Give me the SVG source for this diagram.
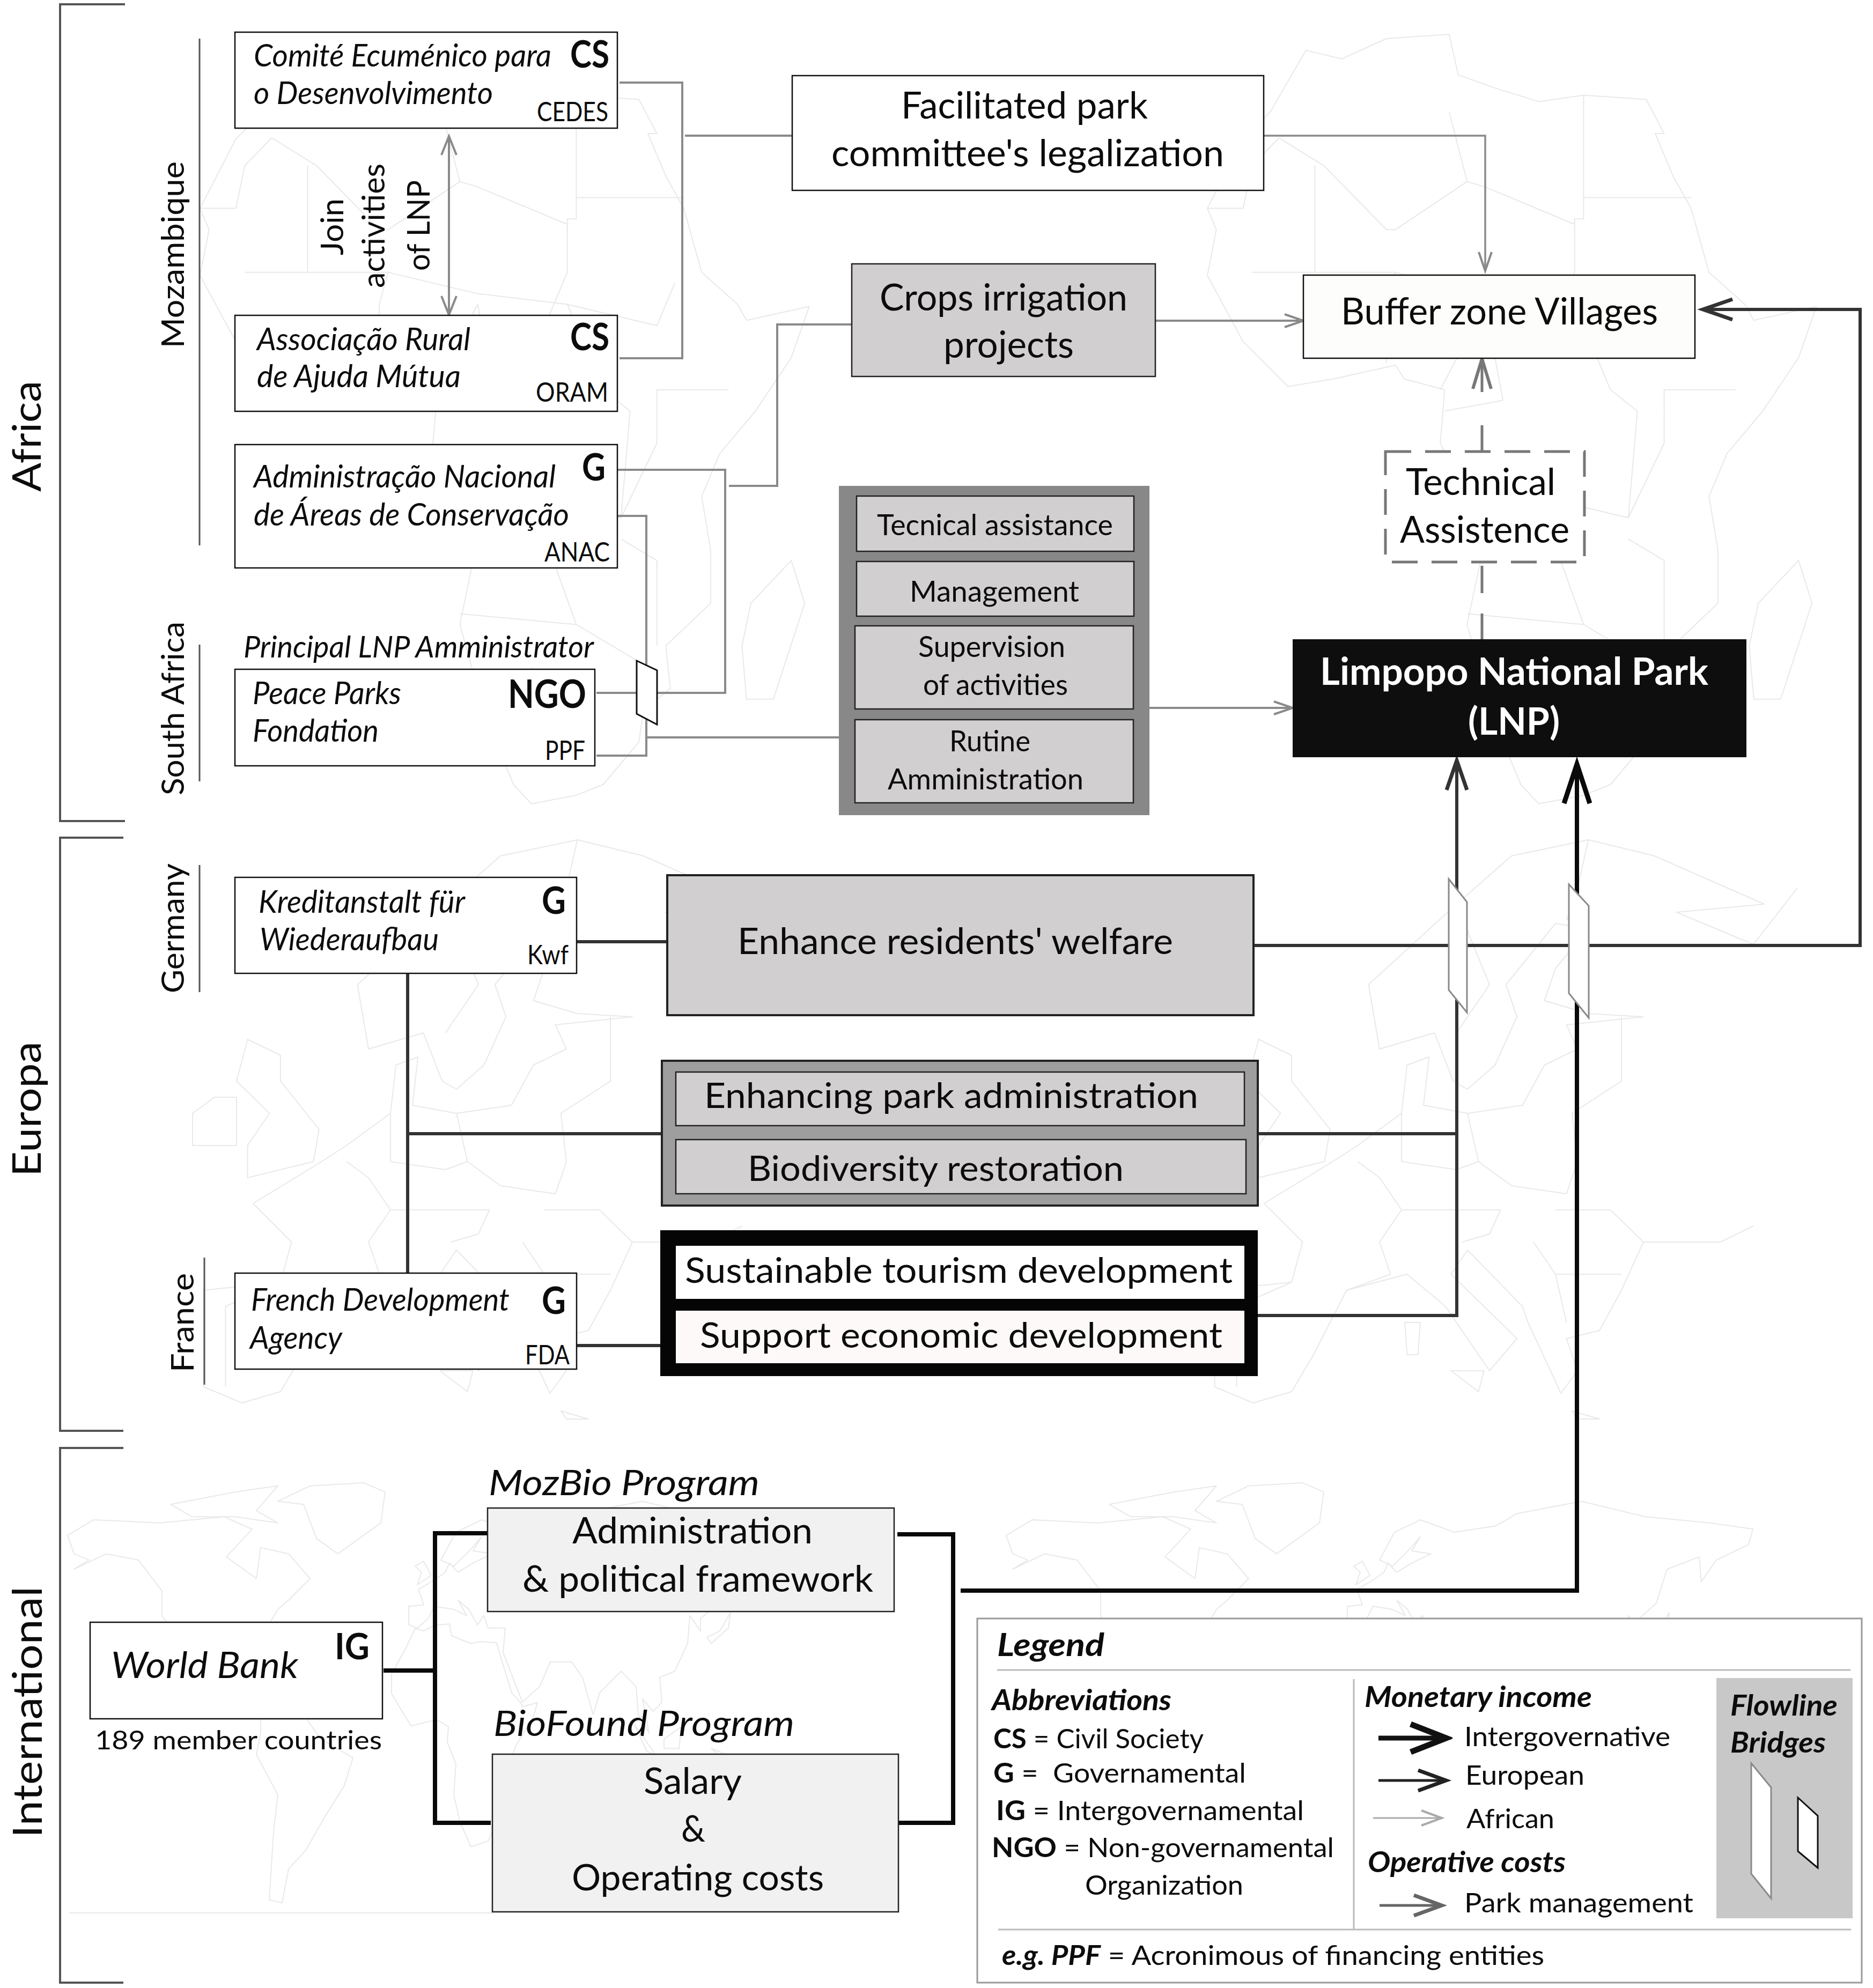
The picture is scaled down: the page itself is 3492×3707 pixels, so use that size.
<svg xmlns="http://www.w3.org/2000/svg" xmlns:xlink="http://www.w3.org/1999/xlink" width="3492" height="3707" viewBox="0 0 3492 3707">
<style>
text{font-family:"Lato","Open Sans","Liberation Sans",sans-serif;fill:#0c0c0c}
.i{font-style:italic}.b{font-weight:700}.bi{font-weight:700;font-style:italic}
.m{fill:none;stroke:#e9e9e9;stroke-width:2;vector-effect:non-scaling-stroke;stroke-linejoin:round}
.box{fill:#fff;stroke:#111;stroke-width:2.5}
.gb{fill:#d1cfd0;stroke:#222;stroke-width:2.5}
.lg{fill:#f1f1f1;stroke:#222;stroke-width:2.5}
.c{fill:none;stroke-linejoin:miter}
.gr{stroke:#8a8a8a;stroke-width:4}
.dk{stroke:#333;stroke-width:6}
.bk{stroke:#0a0a0a;stroke-width:8}
.br{stroke:#555;stroke-width:4;fill:none}
.sep{stroke:#bbb;stroke-width:3;fill:none}
.brg{fill:#fff;stroke:#8a8a8a;stroke-width:3}
.brb{fill:#fff;stroke:#111;stroke-width:3}
</style>
<defs>
<marker id="aG" markerUnits="userSpaceOnUse" markerWidth="80" markerHeight="60" refX="70" refY="30" orient="auto"><path d="M35 18L70 30L35 42" fill="none" stroke="#8a8a8a" stroke-width="4"/></marker>
<marker id="aGs" markerUnits="userSpaceOnUse" markerWidth="80" markerHeight="60" refX="70" refY="30" orient="auto-start-reverse"><path d="M35 16L70 30L35 44" fill="none" stroke="#8a8a8a" stroke-width="4"/></marker>
<marker id="aT" markerUnits="userSpaceOnUse" markerWidth="120" markerHeight="60" refX="100" refY="30" orient="auto"><path d="M44 13L100 30L44 47" fill="none" stroke="#777" stroke-width="6"/></marker>
<marker id="aD" markerUnits="userSpaceOnUse" markerWidth="120" markerHeight="60" refX="100" refY="30" orient="auto"><path d="M45 11L100 30L45 49" fill="none" stroke="#333" stroke-width="7"/></marker>
<marker id="aK" markerUnits="userSpaceOnUse" markerWidth="120" markerHeight="70" refX="100" refY="35" orient="auto"><path d="M27 11L100 35L27 59" fill="none" stroke="#0a0a0a" stroke-width="9"/></marker>
<marker id="l1" markerUnits="userSpaceOnUse" markerWidth="100" markerHeight="80" refX="90" refY="40" orient="auto"><path d="M22 14L88 40L22 66" fill="none" stroke="#111" stroke-width="11"/></marker>
<marker id="l2" markerUnits="userSpaceOnUse" markerWidth="100" markerHeight="80" refX="90" refY="40" orient="auto"><path d="M36 21L88 40L36 59" fill="none" stroke="#222" stroke-width="7"/></marker>
<marker id="l3" markerUnits="userSpaceOnUse" markerWidth="100" markerHeight="80" refX="90" refY="40" orient="auto"><path d="M50 26L88 40L50 54" fill="none" stroke="#aaa" stroke-width="4"/></marker>
<marker id="l4" markerUnits="userSpaceOnUse" markerWidth="100" markerHeight="80" refX="90" refY="40" orient="auto"><path d="M36 21L88 40L36 59" fill="none" stroke="#666" stroke-width="7"/></marker>
<g id="afr">
<path class="m" d="M-6 35.8L-2 35 3 36.9 10 37.3 11 33.5 15 32.3 20 31 25 31.6 32 31.2 34 28 33 28 35 24 37 21 39 15 43 12 44 10.5 51 11.8 49 7 45 2 41 -2 39 -6 40 -11 40 -16 35 -20 35.5 -24 32.5 -26 32 -29 28 -33 25 -34 20 -34.8 18 -33 15 -27 12 -18 13.5 -12 13 -8 9 -1 9.5 4 5 5 4 6.3 -3 5 -8 4.3 -13 8.5 -17 14.7 -16 19 -17 21 -13 27.5 -10 30Z"/>
<path class="m" d="M-9 27.6L-4 25 3 19 4 19 12 23.5 10 30M25 31.6L25 20 24 20 24 15 22 11M12 23.5L14 23 24 19.5M25 22L37 22M-12 15L-5 15 4 15 14 13 24 12 34 10 36 14M9 4L14 12M-17 21L-13 21 -12 25 -9 27.6M-5 25L-5 15M4 15L3 12 3 6.5M15 -5L30 -8 34 -1 34 4 42 4M12 -17L25 -18 33 -22M20 -22L20 -28 17 -28M30 -10L34 -12 34 -20M25 -18L22 -11 12 -6M14 12L16 3 9.5 2M24 12L28 4 31 2 30 -8"/>
<path class="m" d="M49 -12L50.5 -16 47 -25 44 -25 43.5 -20 44.5 -16Z"/>
</g>
<g id="eur">
<path class="m" d="M-9 37L-9 43 -2 43.5 -1 46 -4.5 48.4 1.5 50.9 4 52 8 54 8.5 57 10.5 57.5 10 54.5 14 54 19 54.5 21 57 24 58 23 59.5 30 60 25 60.2 21 61 22 63 25 65.5 22 65.8 17.5 62 18.5 60 16.5 57 14 55.5 12.7 56 11 59 6 58 5 62 13 67 18 70 25 71 31 70 41 67 33 66.5 40 64.5 44 68M40 47L37 46 33 46 30 46 28 43 26 40.5 23 40 24 38 22.5 36.6 19.5 41 19 42 14 45.5 12.5 44 18.5 40 16 38 12 42 8.5 44 3 43 0 39 -2 36.7 -5.5 36 -9 37"/>
<path class="m" d="M-5 50L1 51 1.5 53 -2 56 -2 57.6 -5 58.6 -6 56 -3 54 -5 52ZM-10 52L-6 52 -6 55 -8 55 -10 54ZM12.5 38L15.5 38 15 36.7ZM8.3 41L9.7 41 9.5 39 8.5 39ZM23.5 35.5L26 35 24 35Z"/>
<path class="m" d="M3 43L7 44 6 46 8 48 6 50 4 51M14 54L15 51 18 49.5 23 49 24 51 23.5 54 28 56 28 60M8 48L13 48 17 48 16 46.5 13.5 46M22 48L27 48 30 46M22 44L28 44M20 46L22 44 23 41M-2 43.5L-7 42 -7 37M8 54L8 51 13 50.5 15 51M25 71L24 68 23 66M13 67L16 62 13 59"/>
</g>
<g id="wld">
<path class="m" d="M-165 60L-168 66 -156 71 -125 70 -95 72 -82 68 -94 59 -80 52 -78 62 -65 60 -55 52 -65 45 -70 42 -76 35 -81 30 -80 25 -83 29 -90 29 -97 26 -97 19 -90 21 -87 21 -83 11 -78 9 -85 10 -95 16 -105 20 -112 28 -117 33 -124 40 -124 48 -135 58 -150 60 -165 55 -158 58Z"/>
<path class="m" d="M-55 82L-30 83 -20 80 -22 70 -42 60 -52 65 -58 76 -70 77ZM-120 76L-90 80 -70 82 -80 74 -70 70 -90 72 -110 72Z"/>
<path class="m" d="M-78 9L-72 12 -60 10 -50 0 -35 -6 -39 -15 -48 -25 -57 -36 -65 -42 -68 -53 -74 -52 -72 -30 -70 -18 -80 -5 -78 2Z"/>
<path class="m" d="M-6 35.8L-2 35 3 36.9 10 37.3 11 33.5 15 32.3 20 31 25 31.6 32 31.2 35 24 39 15 43 12 44 10.5 51 11.8 49 7 41 -2 39 -6 40 -16 35 -20 32.5 -26 28 -33 20 -34.8 15 -27 12 -18 13 -8 9 -1 9.5 4 4 6.3 -8 4.3 -17 14.7 -17 21 -10 30ZM49 -12L50.5 -16 47 -25 44 -25 44 -16Z"/>
<path class="m" d="M-9 37L-9 43 -2 43.5 -4.5 48.4 4 52 8 54 10 57 14 54 21 57 30 60 21 61 25 65.5 18 60 12 56 6 58 13 67 25 71 41 67 60 69 70 73 100 77 130 72 160 70 180 68 178 63 163 58 156 51 155 59 140 55 135 44 127 39 127 35 122 40 121 31 115 22 108 20 109 12 105 9 100 13 103 2 98 8 97 17 90 22 80 15 77 8 72 20 67 25 57 25 52 17 44 12 35 28 36 36 28 36 26 40 23 37 19 42 14 45 18 40 12 42 3 43 0 39 -5 36Z"/>
<path class="m" d="M-5 50L1.500 53 -2 57.600 -6 56 -3 54ZM130 33L136 35 141 41 140 36 132 31ZM96 5L106 -5 102 -4ZM110 0L118 4 117 -3 110 -3ZM132 -3L150 -8 140 -8ZM114 -22L122 -18 130 -12 136 -12 140 -17 146 -19 153 -27 150 -37 140 -38 130 -32 115 -34ZM172 -35L178 -38 168 -46Z"/>
</g>
</defs>
<rect width="3492" height="3707" fill="#fff"/>
<g id="basemap">
<use xlink:href="#afr" href="#afr" transform="translate(656.900 806.300) scale(16.700 -19.900)"/>
<use xlink:href="#afr" href="#afr" transform="translate(2534.900 806.300) scale(16.700 -19.900)"/>
<use xlink:href="#eur" href="#eur" transform="translate(564 3696) scale(20.500 -30)"/>
<use xlink:href="#eur" href="#eur" transform="translate(2449 3696) scale(20.500 -30)"/>
<use xlink:href="#wld" href="#wld" transform="translate(798 3243) scale(4 -5.760)"/>
<use xlink:href="#wld" href="#wld" transform="translate(2548 3243) scale(4 -5.760)"/>
<path class="m" d="M129 3567H918"/>
</g>
<g id="brackets">
<path class="br" d="M233 8H112V1531H233"/>
<path class="br" d="M230 1562H112V2668H230"/>
<path class="br" d="M230 2700H112V3697H230"/>
<path class="br" style="stroke-width:3" d="M372 72V1017M372 1202V1457M372 1613V1850M381 2345V2582"/>
<text transform="translate(76 917) rotate(-90)" font-size="74" textLength="207" lengthAdjust="spacingAndGlyphs">Africa</text>
<text transform="translate(76 2194) rotate(-90)" font-size="74" textLength="252" lengthAdjust="spacingAndGlyphs">Europa</text>
<text transform="translate(78 3427) rotate(-90)" font-size="76" textLength="469" lengthAdjust="spacingAndGlyphs">International</text>
<text transform="translate(343 649) rotate(-90)" font-size="58" textLength="348" lengthAdjust="spacingAndGlyphs">Mozambique</text>
<text transform="translate(343 1483) rotate(-90)" font-size="58" textLength="324" lengthAdjust="spacingAndGlyphs">South Africa</text>
<text transform="translate(343 1852) rotate(-90)" font-size="58" textLength="242" lengthAdjust="spacingAndGlyphs">Germany</text>
<text transform="translate(361 2559) rotate(-90)" font-size="58" textLength="185" lengthAdjust="spacingAndGlyphs">France</text>
<text transform="translate(640 476) rotate(-90)" font-size="58" textLength="106" lengthAdjust="spacingAndGlyphs">Join</text>
<text transform="translate(717 537) rotate(-90)" font-size="58" textLength="232" lengthAdjust="spacingAndGlyphs">activities</text>
<text transform="translate(801 505) rotate(-90)" font-size="58" textLength="169" lengthAdjust="spacingAndGlyphs">of LNP</text>
</g>
<g id="connectors">
<path class="c gr" marker-start="url(#aGs)" marker-end="url(#aGs)" d="M837 254V587"/>
<path class="c gr" d="M1155 154H1272V668H1155M1277 253H1477"/>
<path class="c gr" style="stroke-width:3.500" marker-end="url(#aG)" d="M2356 253H2769V505"/>
<path class="c gr" marker-end="url(#aG)" d="M2154 598H2430"/>
<path class="c gr" d="M1151 876H1352V1292H1112M1359 906H1449V605H1588M1151 962H1205V1409H1112M1205 1375H1564"/>
<path class="c gr" marker-end="url(#aG)" d="M2143 1320H2410"/>
<path class="c" stroke="#777" stroke-width="5" d="M2763 1192V1144M2763 1106V1055M2763 841V793"/>
<path class="c" stroke="#777" stroke-width="5" marker-end="url(#aT)" d="M2763 731V669"/>
<path class="c dk" d="M1075 1756H1244M760 1815V2374M760 2114H1234M1075 2509H1234"/>
<path class="c dk" d="M2345 2114H2716"/>
<path class="c dk" marker-end="url(#aD)" d="M2337 2453H2716V1418"/>
<path class="c dk" marker-end="url(#aD)" d="M2337 1763H3468V577H3175"/>
<path class="c bk" d="M715 3115H811M915 2859H811V3399H915M1673 2861H1777V3399H1673"/>
<path class="c bk" marker-end="url(#aK)" d="M1791 2966H2940V1425"/>
<polygon class="brb" points="1187,1232 1225,1250 1225,1351 1187,1331"/>
<polygon class="brg" points="2701,1639 2735,1682 2735,1888 2701,1846"/>
<polygon class="brg" points="2925,1649 2962,1689 2962,1898 2925,1852"/>
</g>
<g id="n-cedes"><rect class="box" x="438" y="60" width="713" height="179"/>
<text class="i" x="473" y="124" font-size="59" textLength="555" lengthAdjust="spacingAndGlyphs">Comité Ecuménico para</text>
<text class="i" x="473" y="194" font-size="59" textLength="446" lengthAdjust="spacingAndGlyphs">o Desenvolvimento</text>
<text class="b" x="1063" y="126" font-size="70" textLength="73" lengthAdjust="spacingAndGlyphs">CS</text>
<text x="1001" y="226" font-size="50" textLength="133" lengthAdjust="spacingAndGlyphs">CEDES</text></g>
<g id="n-oram"><rect class="box" x="438" y="588" width="713" height="179"/>
<text class="i" x="479" y="653" font-size="59" textLength="398" lengthAdjust="spacingAndGlyphs">Associação Rural</text>
<text class="i" x="479" y="722" font-size="59" textLength="380" lengthAdjust="spacingAndGlyphs">de Ajuda Mútua</text>
<text class="b" x="1063" y="653" font-size="70" textLength="73" lengthAdjust="spacingAndGlyphs">CS</text>
<text x="999" y="749" font-size="50" textLength="135" lengthAdjust="spacingAndGlyphs">ORAM</text></g>
<g id="n-anac"><rect class="box" x="438" y="829" width="713" height="230"/>
<text class="i" x="473" y="909" font-size="59" textLength="563" lengthAdjust="spacingAndGlyphs">Administração Nacional</text>
<text class="i" x="473" y="980" font-size="59" textLength="588" lengthAdjust="spacingAndGlyphs">de Áreas de Conservação</text>
<text class="b" x="1085" y="896" font-size="70" textLength="44" lengthAdjust="spacingAndGlyphs">G</text>
<text x="1015" y="1047" font-size="50" textLength="122" lengthAdjust="spacingAndGlyphs">ANAC</text></g>
<g id="n-ppf"><text class="i" x="454" y="1226" font-size="57" textLength="653" lengthAdjust="spacingAndGlyphs">Principal LNP Amministrator</text>
<rect class="box" x="438" y="1248" width="671" height="180"/>
<text class="i" x="471" y="1313" font-size="59" textLength="277" lengthAdjust="spacingAndGlyphs">Peace Parks</text>
<text class="i" x="471" y="1383" font-size="59" textLength="235" lengthAdjust="spacingAndGlyphs">Fondation</text>
<text class="b" x="947" y="1320" font-size="72" textLength="146" lengthAdjust="spacingAndGlyphs">NGO</text>
<text x="1016" y="1417" font-size="50" textLength="75" lengthAdjust="spacingAndGlyphs">PPF</text></g>
<g id="n-facil"><rect class="box" x="1477" y="141" width="879" height="214"/>
<text x="1680" y="221" font-size="69" textLength="460" lengthAdjust="spacingAndGlyphs">Facilitated park</text>
<text x="1550" y="310" font-size="69" textLength="732" lengthAdjust="spacingAndGlyphs">committee's legalization</text></g>
<g id="n-crops"><rect class="gb" x="1588" y="492" width="566" height="210"/>
<text x="1640" y="579" font-size="69" textLength="462" lengthAdjust="spacingAndGlyphs">Crops irrigation</text>
<text x="1759" y="667" font-size="69" textLength="243" lengthAdjust="spacingAndGlyphs">projects</text></g>
<g id="n-buffer"><rect class="box" style="fill:#fdfdfb" x="2430" y="513" width="730" height="155"/>
<text x="2500" y="605" font-size="69" textLength="591" lengthAdjust="spacingAndGlyphs">Buffer zone Villages</text></g>
<g id="n-tech"><rect x="2583" y="842" width="371" height="206" fill="#fff" stroke="#777" stroke-width="5" stroke-dasharray="48 26"/>
<text x="2621" y="923" font-size="69" textLength="279" lengthAdjust="spacingAndGlyphs">Technical</text>
<text x="2610" y="1012" font-size="69" textLength="316" lengthAdjust="spacingAndGlyphs">Assistence</text></g>
<g id="n-lnp"><rect x="2410" y="1192" width="846" height="220" fill="#0e0e0e"/>
<text class="b" style="fill:#fff" x="2461" y="1277" font-size="70" textLength="724" lengthAdjust="spacingAndGlyphs">Limpopo National Park</text>
<text class="b" style="fill:#fff" x="2737" y="1370" font-size="70" textLength="171" lengthAdjust="spacingAndGlyphs">(LNP)</text></g>
<g id="n-admin-group"><rect x="1564" y="906" width="579" height="614" fill="#888"/>
<rect class="gb" x="1597" y="925" width="517" height="103"/>
<text x="1635" y="998" font-size="55" textLength="440" lengthAdjust="spacingAndGlyphs">Tecnical assistance</text>
<rect class="gb" x="1597" y="1047" width="517" height="102"/>
<text x="1696" y="1122" font-size="55" textLength="316" lengthAdjust="spacingAndGlyphs">Management</text>
<rect class="gb" x="1594" y="1167" width="519" height="155"/>
<text x="1712" y="1225" font-size="55" textLength="274" lengthAdjust="spacingAndGlyphs">Supervision</text>
<text x="1721" y="1296" font-size="55" textLength="270" lengthAdjust="spacingAndGlyphs">of activities</text>
<rect class="gb" x="1594" y="1342" width="519" height="155"/>
<text x="1770" y="1401" font-size="55" textLength="151" lengthAdjust="spacingAndGlyphs">Rutine</text>
<text x="1655" y="1472" font-size="55" textLength="365" lengthAdjust="spacingAndGlyphs">Amministration</text></g>
<g id="n-kwf"><rect class="box" x="438" y="1636" width="637" height="179"/>
<text class="i" x="482" y="1702" font-size="59" textLength="385" lengthAdjust="spacingAndGlyphs">Kreditanstalt für</text>
<text class="i" x="484" y="1772" font-size="59" textLength="334" lengthAdjust="spacingAndGlyphs">Wiederaufbau</text>
<text class="b" x="1010" y="1704" font-size="70" textLength="45" lengthAdjust="spacingAndGlyphs">G</text>
<text x="983" y="1798" font-size="50" textLength="77" lengthAdjust="spacingAndGlyphs">Kwf</text></g>
<g id="n-fda"><rect class="box" x="438" y="2374" width="637" height="179"/>
<text class="i" x="468" y="2444" font-size="59" textLength="482" lengthAdjust="spacingAndGlyphs">French Development</text>
<text class="i" x="466" y="2515" font-size="59" textLength="172" lengthAdjust="spacingAndGlyphs">Agency</text>
<text class="b" x="1010" y="2450" font-size="70" textLength="45" lengthAdjust="spacingAndGlyphs">G</text>
<text x="979" y="2544" font-size="50" textLength="83" lengthAdjust="spacingAndGlyphs">FDA</text></g>
<g id="n-welfare"><rect class="gb" style="stroke-width:4" x="1244" y="1632" width="1093" height="261"/>
<text x="1375" y="1779" font-size="67" textLength="812" lengthAdjust="spacingAndGlyphs">Enhance residents' welfare</text></g>
<g id="n-park-group"><rect x="1234" y="1978" width="1111" height="270" fill="#9e9e9e" stroke="#222" stroke-width="4"/>
<rect class="gb" x="1260" y="1999" width="1060" height="100"/>
<text x="1313" y="2066" font-size="66" textLength="921" lengthAdjust="spacingAndGlyphs">Enhancing park administration</text>
<rect class="gb" x="1260" y="2125" width="1063" height="101"/>
<text x="1394" y="2202" font-size="66" textLength="701" lengthAdjust="spacingAndGlyphs">Biodiversity restoration</text></g>
<g id="n-tourism-group"><rect x="1231" y="2294" width="1114" height="272" fill="#050505"/>
<rect x="1260" y="2323" width="1060" height="99" fill="#fff"/>
<text x="1277" y="2392" font-size="66" textLength="1021" lengthAdjust="spacingAndGlyphs">Sustainable tourism development</text>
<rect x="1260" y="2444" width="1060" height="98" fill="#fdf9f8"/>
<text x="1305" y="2513" font-size="66" textLength="974" lengthAdjust="spacingAndGlyphs">Support economic development</text></g>
<g id="n-wb"><rect class="box" x="168" y="3025" width="545" height="180"/>
<text class="i" x="207" y="3129" font-size="67" textLength="349" lengthAdjust="spacingAndGlyphs">World Bank</text>
<text class="b" x="624" y="3094" font-size="66" textLength="65" lengthAdjust="spacingAndGlyphs">IG</text>
<text x="177" y="3262" font-size="49" textLength="535" lengthAdjust="spacingAndGlyphs">189 member countries</text></g>
<g id="n-mozbio"><text class="i" x="911" y="2788" font-size="65" textLength="505" lengthAdjust="spacingAndGlyphs">MozBio Program</text>
<rect class="lg" x="909" y="2812" width="758" height="193"/>
<text x="1067" y="2878" font-size="67" textLength="448" lengthAdjust="spacingAndGlyphs">Administration</text>
<text x="974" y="2968" font-size="67" textLength="654" lengthAdjust="spacingAndGlyphs">&amp; political framework</text></g>
<g id="n-biofound"><text class="i" x="920" y="3237" font-size="65" textLength="561" lengthAdjust="spacingAndGlyphs">BioFound Program</text>
<rect class="lg" x="918" y="3271" width="757" height="294"/>
<text x="1200" y="3345" font-size="67" textLength="183" lengthAdjust="spacingAndGlyphs">Salary</text>
<text x="1270" y="3434" font-size="67" textLength="45" lengthAdjust="spacingAndGlyphs">&amp;</text>
<text x="1066" y="3525" font-size="67" textLength="470" lengthAdjust="spacingAndGlyphs">Operating costs</text></g>
<g id="legend"><rect x="1822" y="3018" width="1649" height="679" fill="#fff" stroke="#999" stroke-width="3"/>
<path class="sep" d="M1859 3114H3450M2524 3131V3598M1861 3598H3451"/>
<text class="bi" x="1859" y="3088" font-size="60" textLength="200" lengthAdjust="spacingAndGlyphs">Legend</text>
<text class="bi" x="1849" y="3189" font-size="54" textLength="335" lengthAdjust="spacingAndGlyphs">Abbreviations</text>
<text x="1852" y="3260" font-size="51" textLength="392" lengthAdjust="spacingAndGlyphs"><tspan class="b">CS</tspan> = Civil Society</text>
<text x="1852" y="3324" font-size="51" textLength="471" lengthAdjust="spacingAndGlyphs" xml:space="preserve"><tspan class="b">G</tspan> =  Governamental</text>
<text x="1857" y="3394" font-size="51" textLength="574" lengthAdjust="spacingAndGlyphs"><tspan class="b">IG</tspan> = Intergovernamental</text>
<text x="1849" y="3463" font-size="51" textLength="638" lengthAdjust="spacingAndGlyphs"><tspan class="b">NGO</tspan> = Non-governamental</text>
<text x="2023" y="3533" font-size="51" textLength="295" lengthAdjust="spacingAndGlyphs">Organization</text>
<text class="bi" x="2544" y="3183" font-size="54" textLength="424" lengthAdjust="spacingAndGlyphs">Monetary income</text>
<text x="2730" y="3256" font-size="51" textLength="384" lengthAdjust="spacingAndGlyphs">Intergovernative</text>
<text x="2732" y="3328" font-size="51" textLength="222" lengthAdjust="spacingAndGlyphs">European</text>
<text x="2734" y="3409" font-size="51" textLength="164" lengthAdjust="spacingAndGlyphs">African</text>
<text class="bi" x="2550" y="3491" font-size="54" textLength="369" lengthAdjust="spacingAndGlyphs">Operative costs</text>
<text x="2730" y="3566" font-size="51" textLength="427" lengthAdjust="spacingAndGlyphs">Park management</text>
<path fill="none" stroke="#111" stroke-width="9" marker-end="url(#l1)" d="M2570 3241H2698"/>
<path fill="none" stroke="#222" stroke-width="5" marker-end="url(#l2)" d="M2570 3320H2698"/>
<path fill="none" stroke="#aaa" stroke-width="3" marker-end="url(#l3)" d="M2560 3390H2690"/>
<path fill="none" stroke="#666" stroke-width="5" marker-end="url(#l4)" d="M2572 3553H2690"/>
<rect x="3200" y="3129" width="254" height="448" fill="#c8c8c8"/>
<text class="bi" x="3226" y="3199" font-size="54" textLength="200" lengthAdjust="spacingAndGlyphs">Flowline</text>
<text class="bi" x="3226" y="3268" font-size="54" textLength="178" lengthAdjust="spacingAndGlyphs">Bridges</text>
<polygon class="brg" points="3265,3288 3302,3333 3302,3540 3265,3494"/>
<polygon class="brb" points="3352,3352 3389,3386 3389,3483 3352,3452"/>
<text x="1868" y="3664" font-size="51" textLength="1011" lengthAdjust="spacingAndGlyphs"><tspan class="bi">e.g. PPF</tspan> = Acronimous of financing entities</text>
</g>
</svg>
